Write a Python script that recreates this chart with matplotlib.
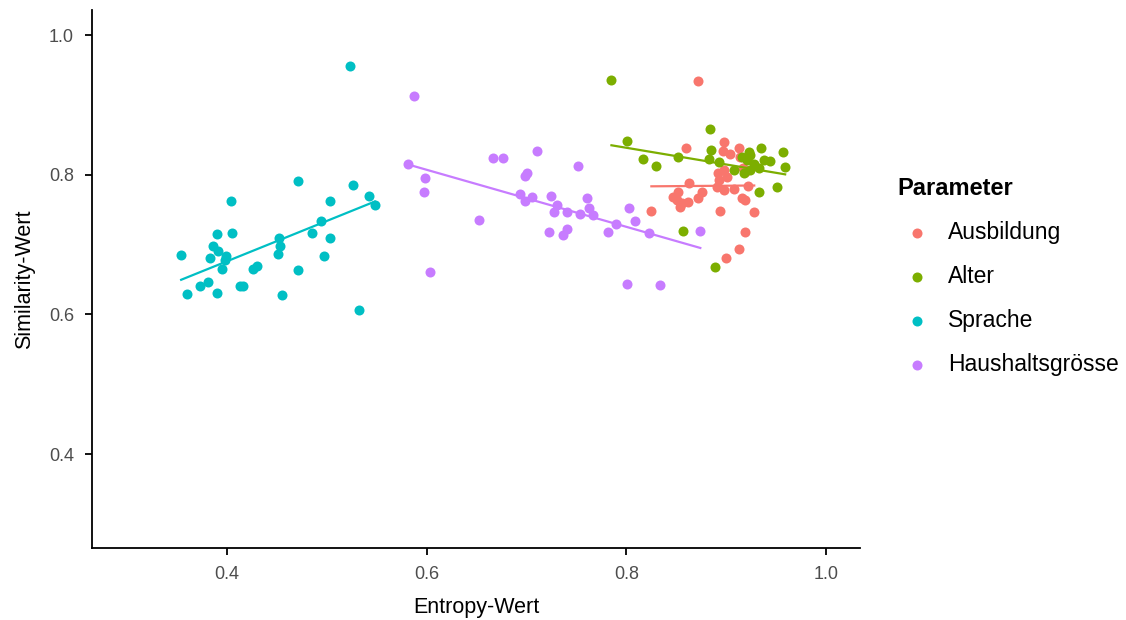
import numpy as np
import matplotlib
matplotlib.use("Agg")
import matplotlib.pyplot as plt

plt.rcParams['font.family'] = ['Liberation Sans', 'DejaVu Sans']

# Werte (Entropy, Similarity)
ausbildung_x = [0.872, 0.860, 0.898, 0.897, 0.904, 0.913, 0.914, 0.898, 0.901, 0.893,
                0.891, 0.898, 0.908, 0.922, 0.916, 0.919, 0.928, 0.919, 0.913, 0.900,
                0.894, 0.863, 0.847, 0.852, 0.856, 0.862, 0.872, 0.876, 0.854, 0.851,
                0.825, 0.917, 0.919, 0.892]
ausbildung_y = [0.935, 0.839, 0.847, 0.834, 0.830, 0.838, 0.826, 0.807, 0.797, 0.792,
                0.783, 0.778, 0.780, 0.784, 0.766, 0.764, 0.746, 0.718, 0.694, 0.681,
                0.748, 0.788, 0.768, 0.776, 0.759, 0.761, 0.766, 0.776, 0.754, 0.764,
                0.748, 0.809, 0.804, 0.802]

alter_x = [0.785, 0.801, 0.817, 0.830, 0.852, 0.884, 0.885, 0.883, 0.893, 0.857,
           0.889, 0.933, 0.951, 0.957, 0.959, 0.935, 0.916, 0.921, 0.924, 0.928,
           0.933, 0.938, 0.944, 0.918, 0.924, 0.908, 0.923]
alter_y = [0.936, 0.848, 0.822, 0.812, 0.826, 0.865, 0.836, 0.822, 0.818, 0.719,
           0.668, 0.775, 0.782, 0.832, 0.811, 0.839, 0.826, 0.821, 0.828, 0.816,
           0.809, 0.821, 0.819, 0.802, 0.807, 0.807, 0.833]

sprache_x = [0.523, 0.354, 0.360, 0.373, 0.381, 0.390, 0.383, 0.386, 0.390, 0.391,
             0.399, 0.398, 0.395, 0.404, 0.405, 0.413, 0.416, 0.426, 0.430, 0.455,
             0.451, 0.453, 0.452, 0.471, 0.471, 0.485, 0.494, 0.503, 0.503, 0.497,
             0.526, 0.542, 0.548, 0.532]
sprache_y = [0.956, 0.685, 0.629, 0.641, 0.646, 0.631, 0.681, 0.698, 0.715, 0.691,
             0.684, 0.678, 0.665, 0.763, 0.717, 0.641, 0.640, 0.665, 0.669, 0.628,
             0.687, 0.698, 0.710, 0.663, 0.791, 0.717, 0.734, 0.763, 0.710, 0.683,
             0.786, 0.770, 0.756, 0.607]

haushalt_x = [0.587, 0.581, 0.598, 0.597, 0.603, 0.652, 0.666, 0.676, 0.710, 0.698,
              0.700, 0.693, 0.698, 0.705, 0.724, 0.730, 0.727, 0.740, 0.722, 0.736,
              0.740, 0.752, 0.754, 0.761, 0.763, 0.767, 0.782, 0.790, 0.803, 0.809,
              0.823, 0.874, 0.801, 0.834]
haushalt_y = [0.913, 0.815, 0.796, 0.776, 0.661, 0.735, 0.824, 0.824, 0.834, 0.798,
              0.802, 0.773, 0.762, 0.768, 0.770, 0.757, 0.746, 0.747, 0.718, 0.714,
              0.723, 0.813, 0.744, 0.766, 0.752, 0.742, 0.718, 0.729, 0.752, 0.734,
              0.716, 0.719, 0.644, 0.642]

gruppen = ["Ausbildung", "Alter", "Sprache", "Haushaltsgrösse"]
farben = ["#F8766D", "#7CAE00", "#00BFC4", "#C77CFF"]
daten = [(ausbildung_x, ausbildung_y), (alter_x, alter_y),
         (sprache_x, sprache_y), (haushalt_x, haushalt_y)]

fig = plt.figure(figsize=(11.26, 6.2), dpi=100)
ax = fig.add_axes([0.0817, 0.1161, 0.6821, 0.8678])

for name, farbe, (xs, ys) in zip(gruppen, farben, daten):
    xs = np.array(xs)
    ys = np.array(ys)
    ax.scatter(xs, ys, s=52, color=farbe, linewidths=0, label=name, zorder=2)
    # lineare Regression pro Gruppe (wie geom_smooth(method="lm", se=FALSE))
    m, b = np.polyfit(xs, ys, 1)
    lx = np.array([xs.min(), xs.max()])
    ax.plot(lx, m * lx + b, color=farbe, lw=1.6, zorder=3)

ax.set_xlim(0.2647, 1.034)
ax.set_ylim(0.2654, 1.036)
ax.set_xticks([0.4, 0.6, 0.8, 1.0])
ax.set_yticks([0.4, 0.6, 0.8, 1.0])
ax.set_xticklabels(["0.4", "0.6", "0.8", "1.0"])
ax.set_yticklabels(["0.4", "0.6", "0.8", "1.0"])
ax.spines['top'].set_visible(False)
ax.spines['right'].set_visible(False)
ax.spines['left'].set_linewidth(1.3)
ax.spines['bottom'].set_linewidth(1.3)
ax.tick_params(length=5, width=1.3, labelsize=13, labelcolor="#4D4D4D", pad=8)
ax.set_xlabel("Entropy-Wert", fontsize=15.5, labelpad=10)
ax.set_ylabel("Similarity-Wert", fontsize=15.5, labelpad=10)

leg = ax.legend(title="Parameter", loc="upper left", bbox_to_anchor=(0.797, 0.715),
                bbox_transform=fig.transFigure, borderaxespad=0, borderpad=0,
                frameon=False, fontsize=16.5, title_fontsize=17, markerscale=1.0,
                labelspacing=0.92, handlelength=1.7, handletextpad=0.5,
                alignment="left")
leg.get_title().set_fontweight("bold")

fig.savefig("out.png", dpi=100)
